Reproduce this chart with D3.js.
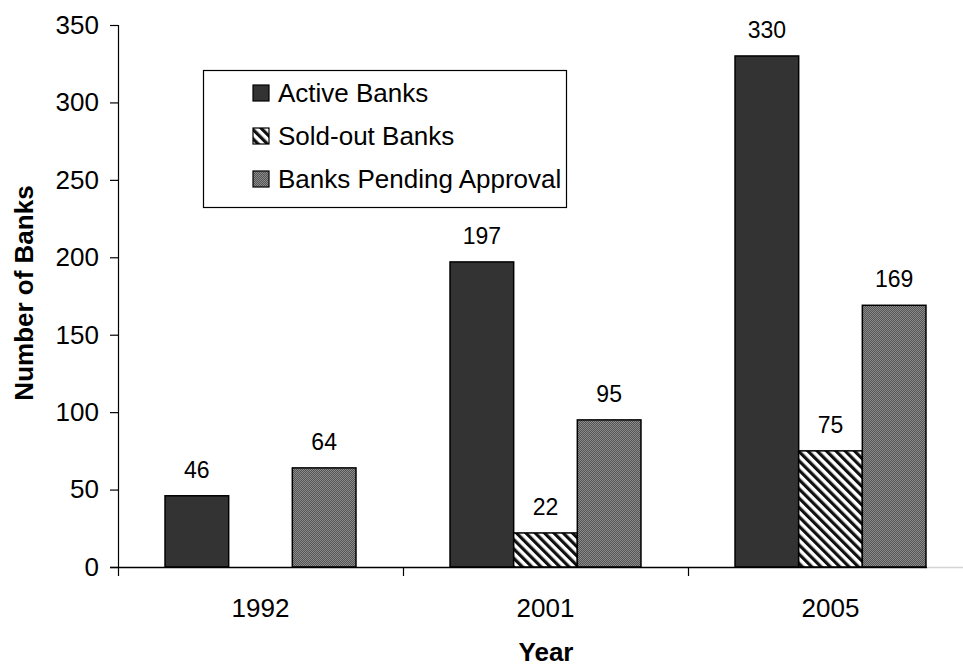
<!DOCTYPE html>
<html><head><meta charset="utf-8">
<script src="https://cdn.jsdelivr.net/npm/d3@7"></script>
<style>
html,body{margin:0;padding:0;background:#fff;}
svg{display:block;font-family:"Liberation Sans",Arial,Helvetica,sans-serif;}
</style></head>
<body>
<svg id="chart" width="963" height="666"></svg>
<script>
const categories = ["1992", "2001", "2005"];
const seriesNames = ["Active Banks", "Sold-out Banks", "Banks Pending Approval"];
const activeBanks = [46, 197, 330];
const soldOutBanks = [null, 22, 75];
const pendingBanks = [64, 95, 169];
const yTicks = [0, 50, 100, 150, 200, 250, 300, 350];

const seriesValues = [activeBanks, soldOutBanks, pendingBanks];
const fills = ["#333333", "url(#stripes)", "url(#dots)"];

const svg = d3.select("#chart");
const defs = svg.append("defs");
const st = defs.append("pattern").attr("id", "stripes").attr("patternUnits", "userSpaceOnUse")
  .attr("width", 6.6).attr("height", 6.6).attr("patternTransform", "rotate(-45)");
st.append("rect").attr("width", 6.6).attr("height", 6.6).attr("fill", "#fff");
st.append("rect").attr("width", 3.2).attr("height", 6.6).attr("fill", "#111");
const dt = defs.append("pattern").attr("id", "dots").attr("patternUnits", "userSpaceOnUse")
  .attr("width", 2).attr("height", 2);
dt.append("rect").attr("width", 2).attr("height", 2).attr("fill", "#555");
dt.append("rect").attr("width", 1).attr("height", 1).attr("fill", "#8a8a8a");
dt.append("rect").attr("x", 1).attr("y", 1).attr("width", 1).attr("height", 1).attr("fill", "#8a8a8a");

const y = d3.scaleLinear().domain([0, 350]).range([567, 25]);
const x0 = d3.scaleBand().domain(categories).range([118, 973]);
const bw = x0.bandwidth();
const x1 = d3.scaleBand().domain(seriesNames).range([bw * 0.165, bw * 0.835]);

// x axis baseline (light continuation, then black)
svg.append("line").attr("x1", 927).attr("x2", 963).attr("y1", 567.5).attr("y2", 567.5)
  .attr("stroke", "#d4d4d4").attr("stroke-width", 1.5);

// bars
categories.forEach((c, ci) => {
  seriesNames.forEach((s, si) => {
    const v = seriesValues[si][ci];
    if (v == null) return;
    const bx = x0(c) + x1(s);
    svg.append("rect").attr("x", bx).attr("y", y(v))
      .attr("width", x1.bandwidth()).attr("height", y(0) - y(v))
      .attr("fill", fills[si]).attr("stroke", "#000").attr("stroke-width", 1.5);
    svg.append("text").attr("x", bx + x1.bandwidth() / 2).attr("y", y(v) - 18)
      .attr("text-anchor", "middle").attr("font-size", 23).attr("fill", "#000").text(v);
  });
});

// y axis
const yAxis = d3.axisLeft(y).tickValues(yTicks).tickSize(8).tickPadding(11);
const gy = svg.append("g").attr("transform", "translate(118,0)").call(yAxis);
gy.select(".domain").attr("stroke", "#000").attr("stroke-width", 1.2).attr("d", "M0.5,25V567.5");
gy.selectAll(".tick line").attr("stroke", "#000").attr("stroke-width", 1.2);
gy.selectAll(".tick text").attr("font-size", 26).attr("font-family", "Liberation Sans, Arial, sans-serif").attr("fill", "#000");

// x axis
svg.append("line").attr("x1", 110).attr("x2", 927).attr("y1", 567.5).attr("y2", 567.5)
  .attr("stroke", "#000").attr("stroke-width", 1.5);
const xAxis = d3.axisBottom(x0).tickSize(0).tickPadding(0);
const gx = svg.append("g").attr("transform", "translate(0,567)").call(xAxis);
gx.select(".domain").remove();
gx.selectAll(".tick text").attr("font-size", 26).attr("font-family", "Liberation Sans, Arial, sans-serif")
  .attr("fill", "#000").attr("dy", null).attr("y", 50);
categories.forEach(c => {
  svg.append("line").attr("x1", x0(c) + 0.5).attr("x2", x0(c) + 0.5).attr("y1", 567).attr("y2", 576)
    .attr("stroke", "#000").attr("stroke-width", 1.2);
});

// axis titles
svg.append("text").attr("transform", "translate(33,293) rotate(-90)")
  .attr("text-anchor", "middle").attr("font-size", 26).attr("font-weight", "bold").text("Number of Banks");
svg.append("text").attr("x", 546).attr("y", 661).attr("text-anchor", "middle")
  .attr("font-size", 26).attr("font-weight", "bold").text("Year");

// legend
const lg = svg.append("g");
lg.append("rect").attr("x", 203.5).attr("y", 70.5).attr("width", 363).attr("height", 137)
  .attr("fill", "#fff").attr("stroke", "#000").attr("stroke-width", 1.2);
const rows = [93, 136, 179];
seriesNames.forEach((s, i) => {
  lg.append("rect").attr("x", 253).attr("y", rows[i] - 8).attr("width", 16).attr("height", 16)
    .attr("fill", fills[i]).attr("stroke", "#000").attr("stroke-width", 1.2);
  lg.append("text").attr("x", 278).attr("y", rows[i]).attr("dy", "0.36em")
    .attr("font-size", 26).attr("fill", "#000").text(s);
});
</script>
</body></html>
